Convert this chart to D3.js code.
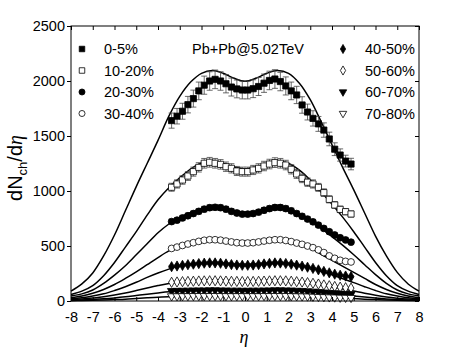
<!DOCTYPE html>
<meta charset="utf-8">
<script src="https://d3js.org/d3.v7.min.js"></script>
<style>
  body { margin: 0; background: #fff; }
  text { font-family: "Liberation Sans", Arial, sans-serif; }
</style>
<div id="chart"></div>
<script>

// centrality classes
var classes = ["0-5%", "10-20%", "20-30%", "30-40%", "40-50%", "50-60%", "60-70%", "70-80%"];

// measured points (eta bins)
var etaData = [-3.375, -3.125, -2.875, -2.625, -2.375, -2.125, -1.875, -1.625, -1.375, -1.125,
               -0.875, -0.625, -0.375, -0.125, 0.125, 0.375, 0.625, 0.875, 1.125, 1.375,
               1.625, 1.875, 2.125, 2.375, 2.625, 2.875, 3.125, 3.375, 3.625, 3.875,
               4.125, 4.375, 4.625, 4.875];

var data0  = [1640,1680,1725,1785,1840,1910,1962,2000,2015,2000,1975,1945,1928,1918,1918,1930,1950,1980,2005,2018,1995,1955,1910,1873,1782,1718,1660,1610,1554,1473,1380,1327,1272,1245];
var data10 = [1034,1064,1100,1136,1176,1215,1252,1261,1252,1242,1221,1206,1182,1176,1176,1191,1206,1227,1245,1258,1252,1236,1197,1155,1115,1080,1064,1033,985,924,873,833,812,791];
var data20 = [722,735,755,775,795,815,835,848,852,848,835,815,800,790,790,795,808,825,840,850,850,840,820,795,770,745,720,690,660,630,600,575,555,535];
var data30 = [478,490,505,518,530,542,552,557,557,553,545,537,530,527,527,530,537,545,552,557,557,550,540,527,515,500,485,465,440,410,388,370,360,355];
var data40 = [312,318,324,330,335,340,344,346,346,343,337,331,327,325,325,327,331,337,342,346,345,341,334,326,317,307,296,283,269,256,244,234,227,221];
var data50 = [170,173,176,178,180,182,183,184,184,183,181,179,178,177,177,178,179,181,183,184,184,183,180,176,172,167,161,154,146,139,132,126,121,117];
var data60 = [92,93,94,95,96,97,97,98,98,97,96,95,95,94,94,95,95,96,97,98,98,97,96,94,92,89,86,82,78,74,71,68,65,63];
var data70 = [44,44,45,45,46,46,46,46,46,46,45,45,45,45,45,45,45,46,46,46,46,46,45,44,43,42,40,38,36,34,33,31,30,29];

// relative uncertainty per class
var relErr = [0.042, 0.035, 0.03, 0.03, 0.03, 0.03, 0.03, 0.03];

// model curves
var etaModel = [-8,-7.5,-7,-6.5,-6,-5.5,-5,-4.5,-4,-3.5,-3,-2.5,-2,-1.5,-1,-0.5,0,
                0.5,1,1.5,2,2.5,3,3.5,4,4.5,5,5.5,6,6.5,7,7.5,8];

var model0  = [90,155,255,410,600,820,1040,1250,1460,1680,1860,1990,2070,2095,2070,2025,1998,2025,2070,2095,2070,1980,1830,1630,1420,1210,1010,800,590,410,260,155,90];
var model10 = [60,90,140,230,350,490,630,780,920,1030,1120,1200,1255,1272,1252,1218,1202,1218,1252,1272,1250,1190,1100,990,880,760,630,490,350,230,140,90,60];
var model20 = [45,65,100,160,235,320,420,520,620,700,760,805,840,856,846,816,802,816,846,856,836,790,730,660,585,505,420,330,240,160,100,65,45];
var model30 = [30,45,70,105,150,205,265,330,395,455,500,535,556,566,560,546,540,546,560,566,555,525,480,425,370,315,260,205,150,105,70,45,30];
var model40 = [20,30,45,65,95,130,170,215,255,290,318,336,346,350,346,338,335,338,346,350,345,330,305,272,238,202,167,130,95,65,45,30,20];
var model50 = [12,18,27,38,54,73,95,118,140,160,174,183,188,190,188,184,182,184,188,190,187,179,166,149,130,110,90,70,52,37,26,18,12];
var model60 = [6,9,14,20,28,38,50,62,73,83,90,95,98,99,98,96,95,96,98,99,97,93,86,77,67,57,46,36,27,19,13,9,6];
var model70 = [3,4,6,9,13,17,23,29,34,39,43,45,47,47,47,46,45,46,47,47,46,44,41,37,32,27,22,17,13,9,6,4,3];

var dataSets  = [data0, data10, data20, data30, data40, data50, data60, data70];
var modelSets = [model0, model10, model20, model30, model40, model50, model60, model70];

var xTicks = [-8,-7,-6,-5,-4,-3,-2,-1,0,1,2,3,4,5,6,7,8];
var yTicks = [0, 500, 1000, 1500, 2000, 2500];

// marker styles
var markerType = [d3.symbolSquare, d3.symbolSquare, d3.symbolCircle, d3.symbolCircle,
                  d3.symbolDiamond, d3.symbolDiamond, d3.symbolTriangle, d3.symbolTriangle];
var markerFill = ["#000", "#fff", "#000", "#fff", "#000", "#fff", "#000", "#fff"];
var markerSize = [38, 38, 36, 36, 30, 30, 30, 30];

var W = 463, H = 348;
var margin = {top: 26, right: 44, bottom: 47, left: 71};
var width = W - margin.left - margin.right,
    height = H - margin.top - margin.bottom;

var svg = d3.select("#chart").append("svg")
    .attr("width", W).attr("height", H);
var g = svg.append("g")
    .attr("transform", "translate(" + margin.left + "," + margin.top + ")");

var x = d3.scaleLinear().domain([-8, 8]).range([0, width]);
var y = d3.scaleLinear().domain([0, 2500]).range([height, 0]);

// model curves
var line = d3.line()
    .x(function(d) { return x(d[0]); })
    .y(function(d) { return y(d[1]); })
    .curve(d3.curveCatmullRom);

modelSets.forEach(function(m) {
  g.append("path")
    .datum(etaModel.map(function(e, i) { return [e, m[i]]; }))
    .attr("fill", "none")
    .attr("stroke", "#000")
    .attr("stroke-width", 1.5)
    .attr("d", line);
});

// error bars then markers
dataSets.forEach(function(ds, k) {
  var pts = etaData.map(function(e, i) { return {e: e, v: ds[i], err: ds[i] * relErr[k]}; });
  var eb = g.append("g").attr("stroke", "#444").attr("stroke-width", 0.8);
  pts.forEach(function(p) {
    var cx = x(p.e), y1 = y(p.v - p.err), y2 = y(p.v + p.err);
    eb.append("line").attr("x1", cx).attr("x2", cx).attr("y1", y1).attr("y2", y2);
    eb.append("line").attr("x1", cx - 3).attr("x2", cx + 3).attr("y1", y1).attr("y2", y1);
    eb.append("line").attr("x1", cx - 3).attr("x2", cx + 3).attr("y1", y2).attr("y2", y2);
  });
  var sym = d3.symbol().type(markerType[k]).size(markerSize[k]);
  g.append("g").selectAll("path")
    .data(pts)
    .join("path")
      .attr("d", sym)
      .attr("transform", function(d) {
        return "translate(" + x(d.e) + "," + y(d.v) + ")" + (k >= 6 ? " rotate(180)" : "");
      })
      .attr("fill", markerFill[k])
      .attr("stroke", "#000")
      .attr("stroke-width", 0.8);
});

// frame
g.append("rect")
  .attr("width", width).attr("height", height)
  .attr("fill", "none").attr("stroke", "#000").attr("stroke-width", 1);

// axes
var fmt = function(d) { return String(d); };
var axBottom = g.append("g").attr("transform", "translate(0," + height + ")")
  .call(d3.axisBottom(x).tickValues(xTicks).tickSize(-4).tickPadding(11).tickFormat(fmt));
var axTop = g.append("g")
  .call(d3.axisTop(x).tickValues(xTicks).tickSize(-4).tickFormat(""));
var axLeft = g.append("g")
  .call(d3.axisLeft(y).tickValues(yTicks).tickSize(4).tickPadding(2).tickFormat(fmt));
var axRight = g.append("g").attr("transform", "translate(" + width + ",0)")
  .call(d3.axisRight(y).tickValues(yTicks).tickSize(-4).tickFormat(""));

[axBottom, axTop, axLeft, axRight].forEach(function(a) {
  a.select(".domain").remove();
  a.selectAll("line").attr("stroke", "#000");
  a.selectAll("text")
    .attr("fill", "#000")
    .style("font-size", "14.5px")
    .style("font-family", "'Liberation Sans', Arial, sans-serif");
});

// axis labels
svg.append("text")
  .attr("x", 244).attr("y", 343)
  .attr("text-anchor", "middle")
  .style("font-family", "'Liberation Serif', 'Times New Roman', serif")
  .style("font-style", "italic")
  .style("font-size", "18px")
  .text("\u03b7");

var yl = svg.append("text")
  .attr("transform", "translate(22,168) rotate(-90)")
  .attr("text-anchor", "middle")
  .style("font-size", "20px");
yl.append("tspan").text("dN");
yl.append("tspan").attr("dy", 5).style("font-size", "13px").text("ch");
yl.append("tspan").attr("dy", -5).text("/d");
yl.append("tspan")
  .style("font-family", "'Liberation Serif', 'Times New Roman', serif")
  .style("font-style", "italic")
  .text("\u03b7");

// legend
var legRowY = [49, 70.5, 92, 113.5];
classes.forEach(function(c, k) {
  var col = k < 4 ? 0 : 1;
  var mx = col === 0 ? 82 : 343;
  var ty = legRowY[k % 4];
  var sym = d3.symbol().type(markerType[k]).size(markerSize[k] * 0.8);
  svg.append("path")
    .attr("d", sym)
    .attr("transform", "translate(" + mx + "," + ty + ")" + (k >= 6 ? " rotate(180)" : ""))
    .attr("fill", markerFill[k])
    .attr("stroke", "#000")
    .attr("stroke-width", 0.8);
  svg.append("text")
    .attr("x", mx + 22).attr("y", ty)
    .attr("dy", "0.36em")
    .style("font-size", "14.5px")
    .text(c);
});

svg.append("text")
  .attr("x", 192).attr("y", 49)
  .attr("dy", "0.36em")
  .style("font-size", "14.5px")
  .text("Pb+Pb@5.02TeV");

</script>
